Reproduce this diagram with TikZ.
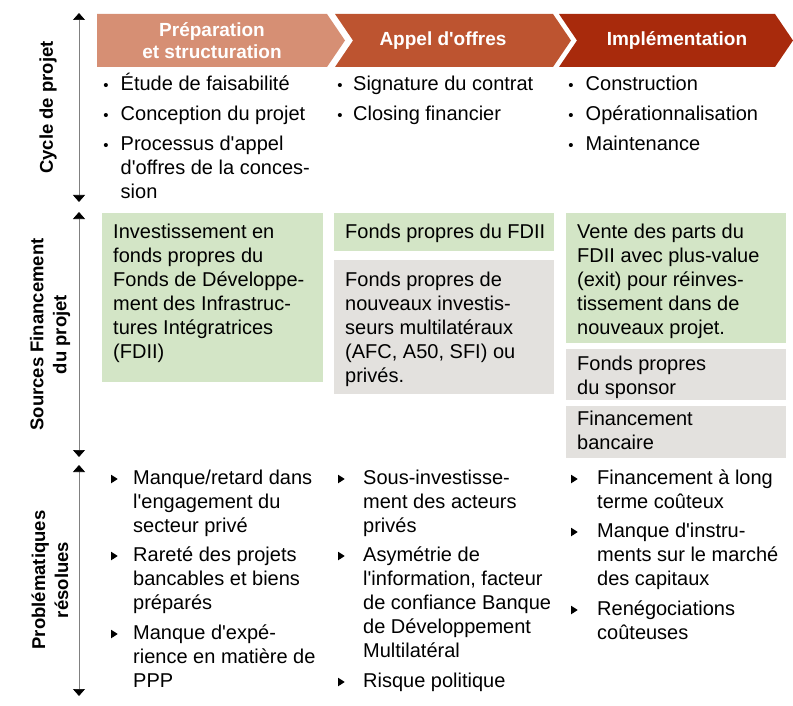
\documentclass[tikz,border=0pt]{standalone}
\usepackage{fontspec}
\setmainfont{Liberation Sans}[Ligatures=TeXOff]
\usetikzlibrary{shapes.geometric,arrows.meta}
\definecolor{prep}{HTML}{D68F74}
\definecolor{appel}{HTML}{BD5430}
\definecolor{impl}{HTML}{A82A0C}
\definecolor{vert}{HTML}{D3E5C6}
\definecolor{gris}{HTML}{E3E1DE}
\newcommand{\lgn}{\rule{0pt}{19pt}}

\begin{document}
\begin{tikzpicture}[x=1pt,y=-1pt]
	\tikzstyle{head} = [text=white, align=center, inner sep=0pt, font=\fontsize{19}{22}\selectfont\bfseries]
	\tikzstyle{txt} = [anchor=north west, yshift=19pt, align=left, inner sep=0pt, font=\fontsize{20}{24}\selectfont]
	\tikzstyle{dot} = [anchor=base, inner sep=0pt, font=\fontsize{15}{16}\selectfont]
	\tikzstyle{tri} = [isosceles triangle, isosceles triangle stretches, fill=black, inner sep=0pt, minimum width=8.5pt, minimum height=6.5pt]
	\tikzstyle{box} = [anchor=north west, inner sep=0pt, outer sep=0pt, minimum width=220pt]
	\tikzstyle{axe} = [gray, line width=0.7pt, {Triangle[black,width=12pt,length=7pt]}-{Triangle[black,width=12pt,length=7pt]}]
	\tikzstyle{titre} = [rotate=90, align=center, inner sep=0pt, font=\fontsize{18.5}{23}\selectfont\bfseries]

	\useasboundingbox (0,0) rectangle (793,706);

	% phases
	\fill[prep] (97,14) -- (327,14) -- (345,40.5) -- (327,67) -- (97,67) -- cycle;
	\fill[appel] (335,14) -- (553,14) -- (571,40.5) -- (553,67) -- (335,67) -- (353,40.5) -- cycle;
	\fill[impl] (559,14) -- (775,14) -- (793,40.5) -- (775,67) -- (559,67) -- (577,40.5) -- cycle;
	\node[head] (h1) at (212,41) {Préparation\\et structuration};
	\node[head] (h2) at (443,41) {Appel d'offres};
	\node[head] (h3) at (677,41) {Implémentation};

	% axes
	\coordinate (a1t) at (79,13);  \coordinate (a1b) at (79,202);
	\coordinate (a2t) at (79,212); \coordinate (a2b) at (79,457);
	\coordinate (a3t) at (79,465); \coordinate (a3b) at (79,696);
	\draw[axe] (a1t) -- (a1b);
	\draw[axe] (a2t) -- (a2b);
	\draw[axe] (a3t) -- (a3b);
	\node[titre] (l1) at (48,107.5) {Cycle de projet};
	\node[titre] (l2) at (50,334.5) {Sources Financement\\du projet};
	\node[titre] (l3) at (50,580) {Problématiques\\résolues};

	% cycle de projet
	\node[txt] (e11) at (120.5,90.5) {\lgn Étude de faisabilité};
	\node[txt] (e12) at (120.5,120.5) {\lgn Conception du projet};
	\node[txt] (e13) at (120.5,150.5) {\lgn Processus d'appel\\d'offres de la conces-\\sion};
	\node[txt] (e21) at (353,90.5) {\lgn Signature du contrat};
	\node[txt] (e22) at (353,120.5) {\lgn Closing financier};
	\node[txt] (e31) at (585.5,90.5) {\lgn Construction};
	\node[txt] (e32) at (585.5,120.5) {\lgn Opérationnalisation};
	\node[txt] (e33) at (585.5,150.5) {\lgn Maintenance};
	\node[dot] (d11) at ([xshift=-14.5pt,yshift=-19pt]e11.north west) {•};
	\node[dot] (d12) at ([xshift=-14.5pt,yshift=-19pt]e12.north west) {•};
	\node[dot] (d13) at ([xshift=-14.5pt,yshift=-19pt]e13.north west) {•};
	\node[dot] (d21) at ([xshift=-13pt,yshift=-19pt]e21.north west) {•};
	\node[dot] (d22) at ([xshift=-13pt,yshift=-19pt]e22.north west) {•};
	\node[dot] (d31) at ([xshift=-14.5pt,yshift=-19pt]e31.north west) {•};
	\node[dot] (d32) at ([xshift=-14.5pt,yshift=-19pt]e32.north west) {•};
	\node[dot] (d33) at ([xshift=-14.5pt,yshift=-19pt]e33.north west) {•};

	% sources de financement
	\node[box, fill=vert, minimum height=169pt, minimum width=221pt] (g1) at (102,213) {};
	\node[box, fill=vert, minimum height=38pt] (g2) at (334,213) {};
	\node[box, fill=gris, minimum height=134pt] (r2) at (334,260) {};
	\node[box, fill=vert, minimum height=130pt] (g3) at (566,213) {};
	\node[box, fill=gris, minimum height=51pt] (r3a) at (566,349) {};
	\node[box, fill=gris, minimum height=52pt] (r3b) at (566,406) {};
	\node[txt] (s1) at (113,238) {\lgn Investissement en\\fonds propres du\\Fonds de Développe-\\ment des Infrastruc-\\tures Intégratrices\\(FDII)};
	\node[txt] (s2) at (345,238) {\lgn Fonds propres du FDII};
	\node[txt] (s3) at (345,286.5) {\lgn Fonds propres de\\nouveaux investis-\\seurs multilatéraux\\(AFC, A50, SFI) ou\\privés.};
	\node[txt] (s4) at (577,238) {\lgn Vente des parts du\\FDII avec plus-value\\(exit) pour réinves-\\tissement dans de\\nouveaux projet.};
	\node[txt] (s5) at (577,370) {\lgn Fonds propres\\du sponsor};
	\node[txt] (s6) at (577,425) {\lgn Financement\\bancaire};

	% problematiques
	\node[txt] (p11) at (133,484) {\lgn Manque/retard dans\\l'engagement du\\secteur privé};
	\node[txt] (p12) at (133,561) {\lgn Rareté des projets\\bancables et biens\\préparés};
	\node[txt] (p13) at (133,639) {\lgn Manque d'expé-\\rience en matière de\\PPP};
	\node[txt] (p21) at (363,484) {\lgn Sous-investisse-\\ment des acteurs\\privés};
	\node[txt] (p22) at (363,561) {\lgn Asymétrie de\\l'information, facteur\\de confiance Banque\\de Développement\\Multilatéral};
	\node[txt] (p23) at (363,687) {\lgn Risque politique};
	\node[txt] (p31) at (597,484) {\lgn Financement à long\\terme coûteux};
	\node[txt] (p32) at (597,537) {\lgn Manque d'instru-\\ments sur le marché\\des capitaux};
	\node[txt] (p33) at (597,615) {\lgn Renégociations\\coûteuses};
	\node[tri] (t11) at ([xshift=-19.5pt,yshift=-14pt]p11.north west) {};
	\node[tri] (t12) at ([xshift=-19.5pt,yshift=-14pt]p12.north west) {};
	\node[tri] (t13) at ([xshift=-19.5pt,yshift=-14pt]p13.north west) {};
	\node[tri] (t21) at ([xshift=-22.5pt,yshift=-14pt]p21.north west) {};
	\node[tri] (t22) at ([xshift=-22.5pt,yshift=-14pt]p22.north west) {};
	\node[tri] (t23) at ([xshift=-22.5pt,yshift=-14pt]p23.north west) {};
	\node[tri] (t31) at ([xshift=-23.5pt,yshift=-14pt]p31.north west) {};
	\node[tri] (t32) at ([xshift=-23.5pt,yshift=-14pt]p32.north west) {};
	\node[tri] (t33) at ([xshift=-23.5pt,yshift=-14pt]p33.north west) {};
\end{tikzpicture}
\end{document}
